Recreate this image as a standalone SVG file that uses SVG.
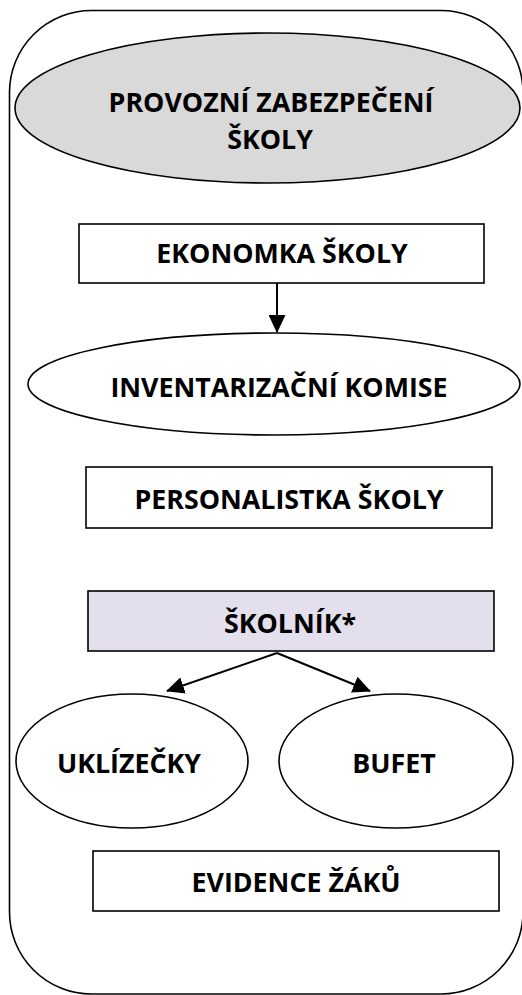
<svg xmlns="http://www.w3.org/2000/svg" width="522" height="995" viewBox="0 0 522 995">
<style>
.sh{stroke:#000;stroke-width:1.6;}
.t{font-family:"Open Sans","Noto Sans","Liberation Sans",sans-serif;font-weight:bold;font-size:26.8px;fill:#000;text-anchor:middle;}
.c{stroke:#000;stroke-width:2;fill:none;}
</style>
<defs>
<marker id="ah2" markerWidth="18" markerHeight="17" refX="17" refY="8.5" orient="auto" markerUnits="userSpaceOnUse" viewBox="0 0 18 17">
<path d="M0,0 L18,8.5 L0,17 z" fill="#000"/>
</marker>
</defs>
<rect id="frame" x="9.5" y="10.5" width="513.5" height="983.5" rx="82" ry="82" fill="#fff" class="sh"/>
<g id="provozni">
<ellipse cx="267.5" cy="108" rx="252.5" ry="75" fill="#d9d9d9" class="sh"/>
<text class="t" x="271" y="112">PROVOZNÍ ZABEZPEČENÍ</text>
<text class="t" x="270" y="149">ŠKOLY</text>
</g>
<g id="ekonomka">
<rect x="79" y="224" width="405" height="59" fill="#fff" class="sh"/>
<text class="t" x="282" y="263">EKONOMKA ŠKOLY</text>
</g>
<g id="inventarizacni">
<ellipse cx="274" cy="384" rx="246" ry="51" fill="#fff" class="sh"/>
<text class="t" x="279" y="397">INVENTARIZAČNÍ KOMISE</text>
</g>
<g id="personalistka">
<rect x="86" y="467" width="406" height="61" fill="#fff" class="sh"/>
<text class="t" x="289" y="509">PERSONALISTKA ŠKOLY</text>
</g>
<g id="skolnik">
<rect x="88" y="591" width="406" height="60" fill="#e4dfec" class="sh"/>
<text class="t" x="290" y="633">ŠKOLNÍK*</text>
</g>
<g id="uklizecky">
<ellipse cx="132" cy="761" rx="116" ry="67" fill="#fff" class="sh"/>
<text class="t" x="129" y="773">UKLÍZEČKY</text>
</g>
<g id="bufet">
<ellipse cx="396" cy="761" rx="117" ry="67" fill="#fff" class="sh"/>
<text class="t" x="394" y="773">BUFET</text>
</g>
<g id="evidence">
<rect x="93" y="851" width="406" height="60" fill="#fff" class="sh"/>
<text class="t" x="296" y="892">EVIDENCE ŽÁKŮ</text>
</g>
<g id="connectors">
<line class="c" x1="277" y1="283" x2="277" y2="332" marker-end="url(#ah2)"/>
<line class="c" x1="277" y1="653" x2="167" y2="691" marker-end="url(#ah2)"/>
<line class="c" x1="277" y1="653" x2="370" y2="691" marker-end="url(#ah2)"/>
</g>
</svg>
